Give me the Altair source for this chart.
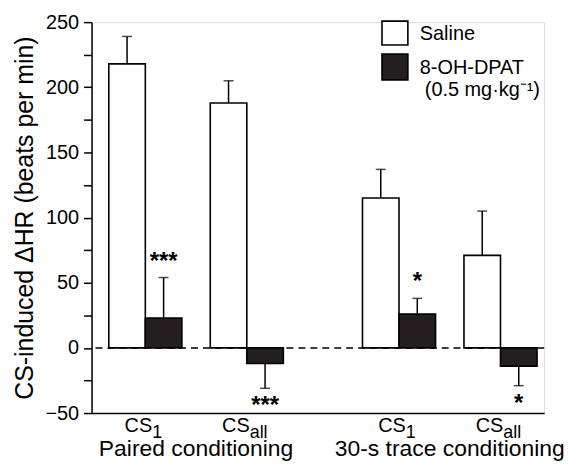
import altair as alt
import pandas as pd

# ---- data ----
conditions = ["Paired conditioning", "30-s trace conditioning"]
stimuli = ["1", "all"]
treatments = ["Saline", "8-OH-DPAT"]
saline_mean = [218, 188, 115, 71]
saline_sem = [21, 17, 22, 34]
dpat_mean = [23, -12, 26, -14]
dpat_sem = [31, 19, 12, 15]
dpat_stars = ["***", "***", "*", "*"]
y_ticks = list(range(-50, 251, 25))
y_title = "CS-induced \u0394HR (beats per min)"
legend_labels = ["Saline", "8-OH-DPAT", "(0.5 mg\u00b7kg\u207b\u00b9)"]

# ---- layout ----
PLOT_W, PLOT_H = 455, 393
X_DOM = [-0.53, 3.93]
GAP = 2.5      # distance (in slots) between condition groups
HALF = 0.36    # width of one bar (slots)
UNIT_PX = PLOT_W / (X_DOM[1] - X_DOM[0])
FONT = "Liberation Sans"
BLACK = "#231f20"

rows, labels = [], []
for k in range(len(saline_mean)):
    j, i = divmod(k, 2)
    pos = i + GAP * j
    for t, (means, sems) in enumerate([(saline_mean, saline_sem), (dpat_mean, dpat_sem)]):
        m, s = means[k], sems[k]
        x0 = pos - HALF if t == 0 else pos
        x1 = pos if t == 0 else pos + HALF
        end = m + s if m >= 0 else m - s
        rows.append(dict(treatment=treatments[t], mean=m, sem=s, x0=x0, x1=x1,
                         xc=(x0 + x1) / 2, end=end,
                         stars=dpat_stars[k] if t == 1 else "",
                         up=bool(m >= 0)))
    sub = stimuli[i]
    cs_w = 1.389 * 20
    sub_w = (0.556 if sub == "1" else 1.0) * 18
    total = cs_w + sub_w
    split_px = -total / 2 + cs_w - 2
    labels.append(dict(cs_x=pos + split_px / UNIT_PX, sub=sub))
df = pd.DataFrame(rows)
lab_df = pd.DataFrame(labels)
cond_df = pd.DataFrame({"name": conditions, "mid": [0.5, 0.5 + GAP]})
zero_df = pd.DataFrame({"y": [0]})
star_up = df[(df.stars != "") & (df.up)]
star_dn = df[(df.stars != "") & (~df.up)]

xscale = alt.Scale(domain=X_DOM, nice=False, zero=False)
xaxis = alt.Axis(title=None, labels=False, ticks=False, grid=False,
                 domainColor="black", domainWidth=1.5)
yscale = alt.Scale(domain=[-50, 250], nice=False, zero=False)
yaxis = alt.Axis(title=y_title, values=y_ticks,
                 labelExpr="datum.value % 50 === 0 ? datum.label : ''",
                 grid=False, tickSize=8, tickWidth=1.5, tickColor="black",
                 domainColor="black", domainWidth=1.5,
                 labelFontSize=20, labelColor="black", labelPadding=5,
                 titleFontSize=25, titleFontWeight="normal", titleColor="black",
                 titlePadding=7, labelFont=FONT, titleFont=FONT)


def X(field):
    return alt.X(field, type="quantitative", scale=xscale, axis=xaxis)


def Y(field):
    return alt.Y(field, type="quantitative", scale=yscale, axis=yaxis)


zero_line = alt.Chart(zero_df).mark_rule(
    strokeDash=[7, 5], strokeWidth=1.5, color="black").encode(y=Y("y"))

bars = alt.Chart(df).mark_bar(stroke="black", strokeWidth=1.6).encode(
    x=X("x0"), x2="x1", y=Y("mean"), y2=alt.Y2("end_zero:Q"),
    fill=alt.Fill("treatment:N", scale=alt.Scale(domain=treatments, range=["white", BLACK]),
                  legend=None),
).transform_calculate(end_zero="0")

err = alt.Chart(df).mark_rule(color="black", strokeWidth=1.5).encode(
    x=X("xc"), y=Y("mean"), y2="end")
caps = alt.Chart(df).mark_tick(orient="horizontal", size=10, thickness=1.5,
                               color="black").encode(x=X("xc"), y=Y("end"))

stars_up = alt.Chart(star_up).mark_text(fontSize=24, fontWeight="bold", font=FONT,
                                        baseline="middle", dy=-16, color="black").encode(
    x=X("xc"), y=Y("end"), text="stars:N")
stars_dn = alt.Chart(star_dn).mark_text(fontSize=24, fontWeight="bold", font=FONT,
                                        baseline="middle", dy=18, color="black").encode(
    x=X("xc"), y=Y("end"), text="stars:N")

cs_text = alt.Chart(lab_df).mark_text(text="CS", align="right", baseline="alphabetic",
                                      fontSize=20, font=FONT, color="black").encode(
    x=X("cs_x"), y=alt.value(412))
sub_text = alt.Chart(lab_df).mark_text(align="left", baseline="alphabetic",
                                       fontSize=18, font=FONT, color="black").encode(
    x=X("cs_x"), y=alt.value(418), text="sub:N")
cond_text = alt.Chart(cond_df).mark_text(align="center", baseline="alphabetic",
                                         fontSize=23, font=FONT, color="black").encode(
    x=X("mid"), y=alt.value(436), text="name:N")

# ---- legend ----
leg_box1 = alt.Chart(zero_df).mark_rect(fill="white", stroke="black", strokeWidth=1.6).encode(
    x=alt.value(292), x2=alt.value(318), y=alt.value(-1), y2=alt.value(23))
leg_box2 = alt.Chart(zero_df).mark_rect(fill=BLACK, stroke="black", strokeWidth=1.6).encode(
    x=alt.value(292), x2=alt.value(318), y=alt.value(32), y2=alt.value(58))
leg_t1 = alt.Chart(zero_df).mark_text(text=legend_labels[0], align="left", baseline="middle",
                                      fontSize=20, font=FONT, color="black").encode(
    x=alt.value(330), y=alt.value(12))
leg_t2 = alt.Chart(zero_df).mark_text(text=legend_labels[1], align="left", baseline="middle",
                                      fontSize=20, font=FONT, color="black").encode(
    x=alt.value(330), y=alt.value(46))
leg_t3 = alt.Chart(zero_df).mark_text(text=legend_labels[2], align="left", baseline="middle",
                                      fontSize=20, font=FONT, color="black").encode(
    x=alt.value(335), y=alt.value(68))

chart = alt.layer(
    zero_line, bars, err, caps, stars_up, stars_dn, cs_text, sub_text, cond_text,
    leg_box1, leg_box2, leg_t1, leg_t2, leg_t3,
).properties(
    width=PLOT_W, height=PLOT_H,
    autosize=alt.AutoSizeParams(type="none"),
    padding={"left": 84, "top": 13, "right": 24, "bottom": 48},
).configure_view(stroke=None).configure(font=FONT)

chart.save("out.html", embed_options={"renderer": "svg", "actions": False})
